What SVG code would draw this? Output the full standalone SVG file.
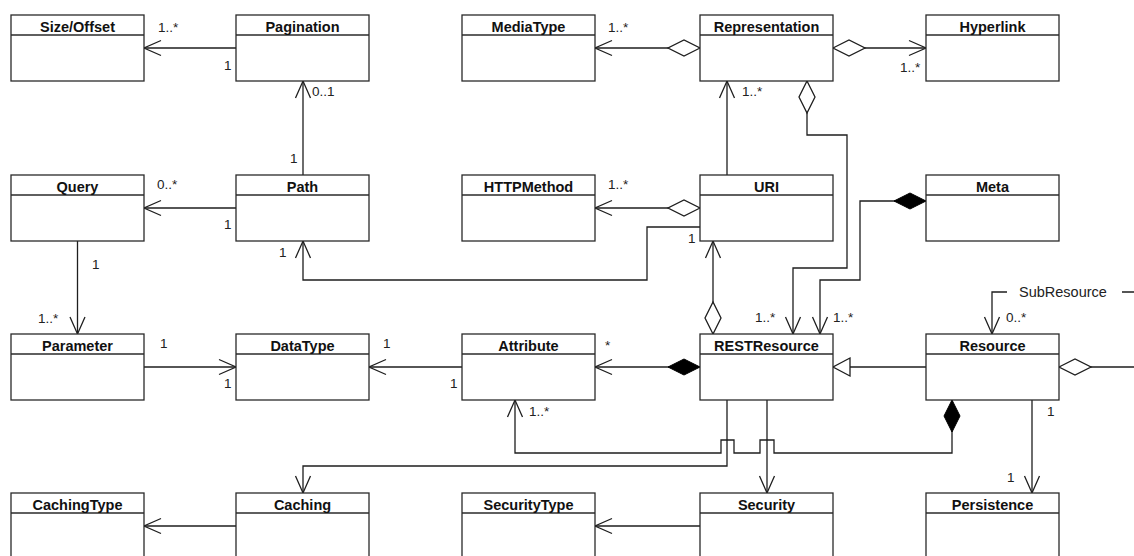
<svg xmlns="http://www.w3.org/2000/svg" width="1134" height="556" viewBox="0 0 1134 556">
  <style>
    .box rect { fill: #ffffff; stroke: #2a2a2a; stroke-width: 1.3; }
    .box line { stroke: #2a2a2a; stroke-width: 1.3; }
    .title { font-family: "Liberation Sans", Arial, sans-serif; font-weight: bold; font-size: 14.5px; fill: #111; text-anchor: middle; }
    .mult { font-family: "Liberation Sans", Arial, sans-serif; font-size: 13.5px; fill: #222; }
    .role { font-family: "Liberation Sans", Arial, sans-serif; font-size: 14.5px; fill: #222; }
    #connectors path { fill: none; stroke: #1e1e1e; stroke-width: 1.3; }
    .nav { marker-end: url(#open-arrow); }
    .agg { marker-start: url(#hollow-diamond); }
    .comp { marker-start: url(#filled-diamond); }
    .gen { marker-end: url(#hollow-triangle); }
  </style>
  <defs>
    <marker id="open-arrow" markerUnits="userSpaceOnUse" markerWidth="20" markerHeight="18" refX="17" refY="8" orient="auto" overflow="visible">
      <path d="M0,0.5 L17,8 L0,15.5" fill="none" stroke="#1e1e1e" stroke-width="1.3"/>
    </marker>
    <marker id="hollow-diamond" markerUnits="userSpaceOnUse" markerWidth="34" markerHeight="18" refX="0" refY="8" orient="auto" overflow="visible">
      <path d="M0,8 L16,0 L32,8 L16,16 Z" fill="#ffffff" stroke="#1e1e1e" stroke-width="1.3"/>
    </marker>
    <marker id="filled-diamond" markerUnits="userSpaceOnUse" markerWidth="34" markerHeight="18" refX="0" refY="8" orient="auto" overflow="visible">
      <path d="M0,8 L16,0 L32,8 L16,16 Z" fill="#000000" stroke="#000000" stroke-width="1"/>
    </marker>
    <marker id="hollow-triangle" markerUnits="userSpaceOnUse" markerWidth="20" markerHeight="20" refX="17" refY="9" orient="auto" overflow="visible">
      <path d="M0,0 L17,9 L0,18 Z" fill="#ffffff" stroke="#1e1e1e" stroke-width="1.3"/>
    </marker>
  </defs>

  <rect width="1134" height="556" fill="#ffffff"/>

  <!-- associations, aggregations, compositions, generalization -->
  <g id="connectors">
    <path class="nav" d="M236,48 H144"/>
    <path class="nav" d="M303,175 V81"/>
    <path class="nav" d="M236,208 H144"/>
    <path class="nav" d="M77.5,241 V334"/>
    <path class="nav" d="M144,367 H236"/>
    <path class="nav" d="M462,367 H369"/>
    <path class="comp nav" d="M700,367 H595"/>
    <path class="agg nav" d="M700,208 H595"/>
    <path class="agg nav" d="M700,48 H595"/>
    <path class="agg nav" d="M833,48 H926"/>
    <path class="nav" d="M727,175 V81"/>
    <path class="agg nav" d="M807,81 V135 H847 V268 H793 V334"/>
    <path class="comp nav" d="M926,201 H860 V280 H820 V334"/>
    <path class="agg nav" d="M713,334 V241"/>
    <path class="nav" d="M700,227 H647 V280 H303 V241"/>
    <path class="gen" d="M926,367 H833"/>
    <path class="agg nav" d="M1059,367 H1150 V292 H1122 M1007,292 H992 V334"/>
    <path class="nav" d="M1032,400 V493"/>
    <path class="comp nav" d="M952,400 V453 H774 V440 H760 V453 H734 V440 H721 V453 H515 V400"/>
    <path class="nav" d="M727,400 V466 H303 V493"/>
    <path class="nav" d="M767,400 V493"/>
    <path class="nav" d="M236,526 H144"/>
    <path class="nav" d="M700,526 H595"/>
  </g>

  <!-- multiplicities and role names -->
  <g id="labels">
    <text class="mult" x="158" y="32">1..*</text>
    <text class="mult" x="224" y="70">1</text>
    <text class="mult" x="312" y="96">0..1</text>
    <text class="mult" x="290" y="163">1</text>
    <text class="mult" x="157" y="189">0..*</text>
    <text class="mult" x="224" y="229">1</text>
    <text class="mult" x="92" y="269">1</text>
    <text class="mult" x="38" y="323">1..*</text>
    <text class="mult" x="160" y="348">1</text>
    <text class="mult" x="224" y="388">1</text>
    <text class="mult" x="383" y="348">1</text>
    <text class="mult" x="450" y="388">1</text>
    <text class="mult" x="605" y="350">*</text>
    <text class="mult" x="608" y="32">1..*</text>
    <text class="mult" x="608" y="189">1..*</text>
    <text class="mult" x="742" y="96">1..*</text>
    <text class="mult" x="900" y="72">1..*</text>
    <text class="mult" x="688" y="243">1</text>
    <text class="mult" x="279" y="257">1</text>
    <text class="mult" x="755" y="322">1..*</text>
    <text class="mult" x="833" y="322">1..*</text>
    <text class="mult" x="1006" y="322">0..*</text>
    <text class="mult" x="529" y="416">1..*</text>
    <text class="mult" x="1047" y="416">1</text>
    <text class="mult" x="1007" y="482">1</text>
    <text class="role" x="1019" y="297">SubResource</text>
  </g>

  <!-- classes -->
  <g id="SizeOffset" class="box"><rect x="11" y="15" width="133" height="66"/><line x1="11" y1="35" x2="144" y2="35"/><text class="title" x="77.5" y="31.5">Size/Offset</text></g>
  <g id="Pagination" class="box"><rect x="236" y="15" width="133" height="66"/><line x1="236" y1="35" x2="369" y2="35"/><text class="title" x="302.5" y="31.5">Pagination</text></g>
  <g id="MediaType" class="box"><rect x="462" y="15" width="133" height="66"/><line x1="462" y1="35" x2="595" y2="35"/><text class="title" x="528.5" y="31.5">MediaType</text></g>
  <g id="Representation" class="box"><rect x="700" y="15" width="133" height="66"/><line x1="700" y1="35" x2="833" y2="35"/><text class="title" x="766.5" y="31.5">Representation</text></g>
  <g id="Hyperlink" class="box"><rect x="926" y="15" width="133" height="66"/><line x1="926" y1="35" x2="1059" y2="35"/><text class="title" x="992.5" y="31.5">Hyperlink</text></g>

  <g id="Query" class="box"><rect x="11" y="175" width="133" height="66"/><line x1="11" y1="195" x2="144" y2="195"/><text class="title" x="77.5" y="191.5">Query</text></g>
  <g id="Path" class="box"><rect x="236" y="175" width="133" height="66"/><line x1="236" y1="195" x2="369" y2="195"/><text class="title" x="302.5" y="191.5">Path</text></g>
  <g id="HTTPMethod" class="box"><rect x="462" y="175" width="133" height="66"/><line x1="462" y1="195" x2="595" y2="195"/><text class="title" x="528.5" y="191.5">HTTPMethod</text></g>
  <g id="URI" class="box"><rect x="700" y="175" width="133" height="66"/><line x1="700" y1="195" x2="833" y2="195"/><text class="title" x="766.5" y="191.5">URI</text></g>
  <g id="Meta" class="box"><rect x="926" y="175" width="133" height="66"/><line x1="926" y1="195" x2="1059" y2="195"/><text class="title" x="992.5" y="191.5">Meta</text></g>

  <g id="Parameter" class="box"><rect x="11" y="334" width="133" height="66"/><line x1="11" y1="354" x2="144" y2="354"/><text class="title" x="77.5" y="350.5">Parameter</text></g>
  <g id="DataType" class="box"><rect x="236" y="334" width="133" height="66"/><line x1="236" y1="354" x2="369" y2="354"/><text class="title" x="302.5" y="350.5">DataType</text></g>
  <g id="Attribute" class="box"><rect x="462" y="334" width="133" height="66"/><line x1="462" y1="354" x2="595" y2="354"/><text class="title" x="528.5" y="350.5">Attribute</text></g>
  <g id="RESTResource" class="box"><rect x="700" y="334" width="133" height="66"/><line x1="700" y1="354" x2="833" y2="354"/><text class="title" x="766.5" y="350.5">RESTResource</text></g>
  <g id="Resource" class="box"><rect x="926" y="334" width="133" height="66"/><line x1="926" y1="354" x2="1059" y2="354"/><text class="title" x="992.5" y="350.5">Resource</text></g>

  <g id="CachingType" class="box"><rect x="11" y="493" width="133" height="66"/><line x1="11" y1="513" x2="144" y2="513"/><text class="title" x="77.5" y="509.5">CachingType</text></g>
  <g id="Caching" class="box"><rect x="236" y="493" width="133" height="66"/><line x1="236" y1="513" x2="369" y2="513"/><text class="title" x="302.5" y="509.5">Caching</text></g>
  <g id="SecurityType" class="box"><rect x="462" y="493" width="133" height="66"/><line x1="462" y1="513" x2="595" y2="513"/><text class="title" x="528.5" y="509.5">SecurityType</text></g>
  <g id="Security" class="box"><rect x="700" y="493" width="133" height="66"/><line x1="700" y1="513" x2="833" y2="513"/><text class="title" x="766.5" y="509.5">Security</text></g>
  <g id="Persistence" class="box"><rect x="926" y="493" width="133" height="66"/><line x1="926" y1="513" x2="1059" y2="513"/><text class="title" x="992.5" y="509.5">Persistence</text></g>
</svg>
